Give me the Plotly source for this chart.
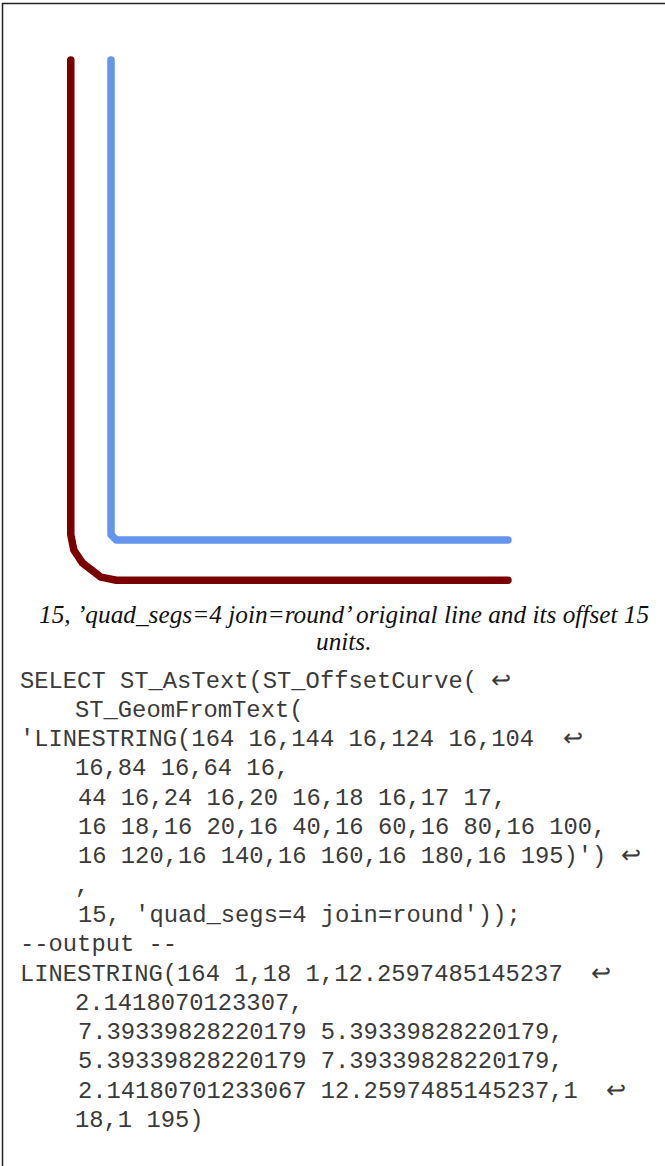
import plotly.graph_objects as go

# Data: original line and its offset curve (15 units, quad_segs=4 join=round)
orig_x = [164, 144, 124, 104, 84, 64, 44, 24, 20, 18, 17, 16, 16, 16, 16, 16, 16, 16, 16, 16, 16, 16]
orig_y = [16, 16, 16, 16, 16, 16, 16, 16, 16, 16, 17, 18, 20, 40, 60, 80, 100, 120, 140, 160, 180, 195]
off_x = [164, 18, 12.2597485145237, 7.39339828220179, 5.39339828220179, 2.14180701233067, 1, 1]
off_y = [1, 1, 2.1418070123307, 5.39339828220179, 7.39339828220179, 12.2597485145237, 18, 195]

caption_lines = ["15, \u2019quad_segs=4 join=round\u2019 original line and its offset 15", "units."]
code_lines = [
    "SELECT ST_AsText(ST_OffsetCurve( \u21a9",
    "    ST_GeomFromText(",
    "'LINESTRING(164 16,144 16,124 16,104  \u21a9",
    "    16,84 16,64 16,",
    "    44 16,24 16,20 16,18 16,17 17,",
    "    16 18,16 20,16 40,16 60,16 80,16 100,",
    "    16 120,16 140,16 160,16 180,16 195)') \u21a9",
    "    ,",
    "    15, 'quad_segs=4 join=round'));",
    "--output --",
    "LINESTRING(164 1,18 1,12.2597485145237  \u21a9",
    "    2.1418070123307,",
    "    7.39339828220179 5.39339828220179,",
    "    5.39339828220179 7.39339828220179,",
    "    2.14180701233067 12.2597485145237,1  \u21a9",
    "    18,1 195)",
]

W, H = 665, 1166
s = 2.682  # px per unit
x0_px, y0_px = 111, 540  # pixel of data point (16,16)

fig = go.Figure()
fig.add_trace(go.Scatter(x=orig_x, y=orig_y, mode="lines",
                         line=dict(color="#6495ED", width=7.5), hoverinfo="skip"))
fig.add_trace(go.Scatter(x=off_x, y=off_y, mode="lines",
                         line=dict(color="#7a0000", width=7.5), hoverinfo="skip"))

fig.update_xaxes(visible=False, range=[16 - x0_px / s, 16 + (W - x0_px) / s], fixedrange=True)
fig.update_yaxes(visible=False, range=[16 - (H - y0_px) / s, 16 + y0_px / s], fixedrange=True)

def py(p):
    return 1 - p / H

annotations = []
cap_y = [614, 641]
for t, yy in zip(caption_lines, cap_y):
    annotations.append(dict(text="<i>" + t + "</i>", x=344 / W, y=py(yy), xref="paper", yref="paper",
                            xanchor="center", yanchor="middle", showarrow=False,
                            font=dict(family="Liberation Serif", size=25.3, color="#111")))
extra_indent = {4, 5, 6, 8, 12, 13, 14}
for i, t in enumerate(code_lines):
    if t.startswith("    "):
        xpx = 73 + (3 if i in extra_indent else 0)
        t = t[4:]
    else:
        xpx = 18
    annotations.append(dict(text=t.replace(" ", "\u00a0"), x=xpx / W, y=py(681 + i * 29.3),
                            xref="paper", yref="paper", xanchor="left", yanchor="middle",
                            showarrow=False,
                            font=dict(family="Liberation Mono", size=23.8, color="#3a3a3a")))

fig.update_layout(
    width=W, height=H, margin=dict(l=0, r=0, t=0, b=0),
    paper_bgcolor="white", plot_bgcolor="white", showlegend=False,
    annotations=annotations,
    shapes=[dict(type="rect", xref="paper", yref="paper", x0=2.5 / W, x1=1.2, y0=-0.2, y1=py(3.5),
                 line=dict(color="#222", width=1.5), layer="above")],
)

post = """
document.body.style.margin='0';
document.body.style.padding='0';
document.querySelectorAll('.js-line').forEach(function(p){p.style.strokeLinecap='round';p.style.strokeLinejoin='round';});
"""
fig.write_html("out.html", config={"displayModeBar": False}, post_script=post)
